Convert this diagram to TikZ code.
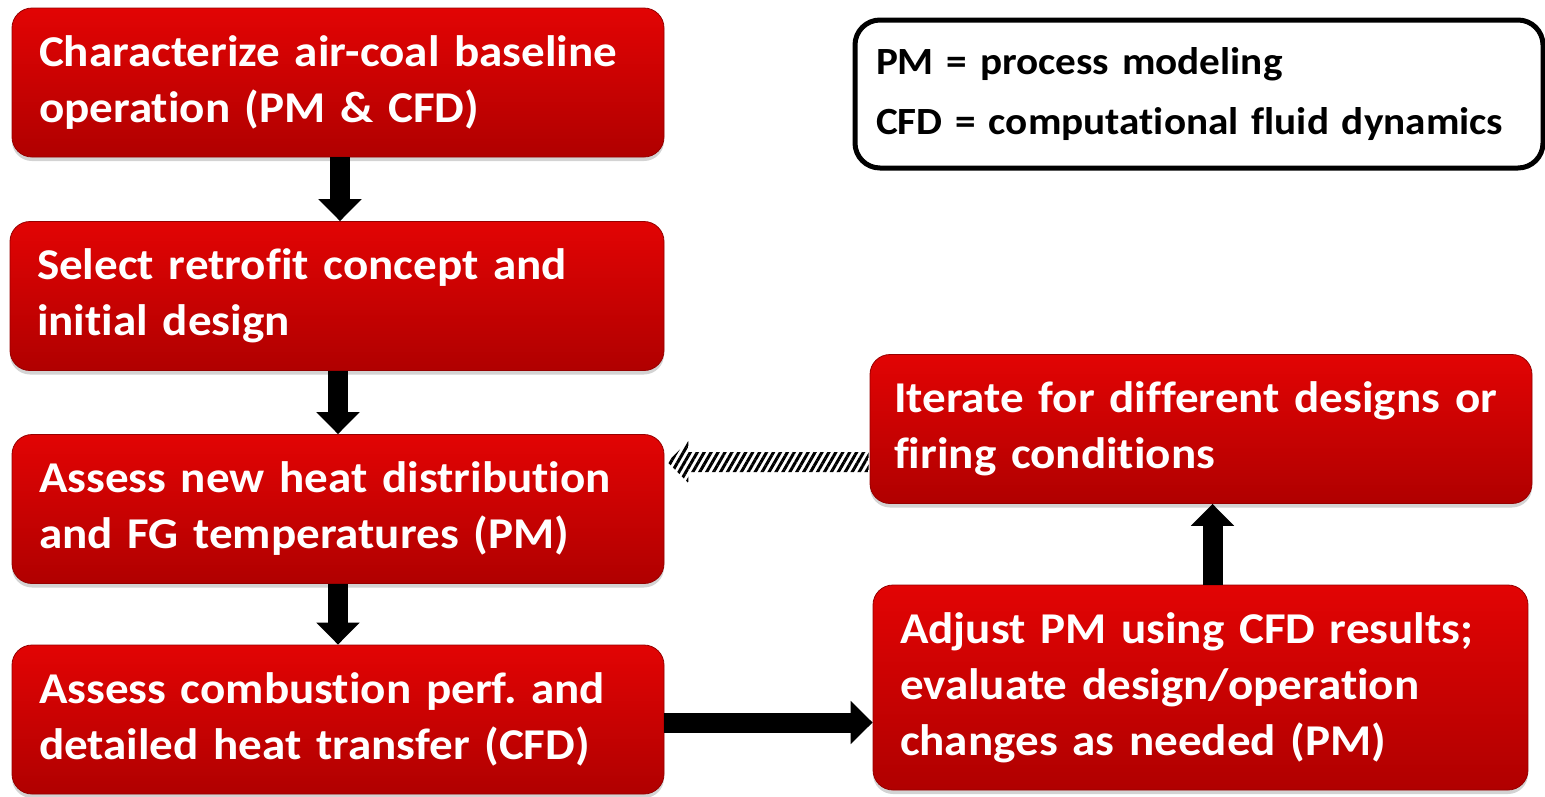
\documentclass[tikz,border=0pt]{standalone}
\usepackage{fontspec}
\setmainfont[FakeStretch=1.07,WordSpace=0.8,Ligatures=NoCommon]{Carlito}
\usepackage{xcolor}
\usetikzlibrary{arrows.meta,shadows,patterns.meta,calc}
\frenchspacing
\definecolor{boxtop}{RGB}{226,4,4}
\definecolor{boxbot}{RGB}{176,0,0}
\tikzset{
  redbox/.style={rounded corners=20pt, top color=boxtop, bottom color=boxbot,
    draw=boxbot!85!black, line width=0.8pt,
    drop shadow={shadow xshift=0pt, shadow yshift=-4pt, opacity=0.35},
    text=white, font=\fontsize{44}{56}\selectfont\bfseries, align=left,
    inner xsep=27pt, minimum height=149pt},
  blockarrow/.style={line width=20pt, -{Triangle[width=42pt,length=22pt]}},
  keybox/.style={draw, line width=5pt, rounded corners=25pt, minimum height=148pt,
    font=\fontsize{38.5}{60}\selectfont\bfseries, align=left, inner xsep=21pt}
}
\begin{document}
\begin{tikzpicture}[x=1pt,y=-1pt]
\useasboundingbox (0,0) rectangle (1545,796);

\node[redbox, text width=598pt] (v1) at (338,82.5) {Characterize air-coal baseline\\operation (PM \& CFD)};
\node[redbox, text width=600pt] (v2) at (337,296) {Select retrofit concept and\\initial design};
\node[redbox, text width=598pt] (v3) at (338,509) {Assess new heat distribution\\and FG temperatures (PM)};
\node[redbox, text width=598pt] (v4) at (338,719.5) {Assess combustion perf. and\\detailed heat transfer (CFD)};
\node[redbox, text width=614pt, inner xsep=24pt] (v5) at (1201,429) {Iterate for different designs or\\firing conditions};
\node[redbox, text width=601pt, minimum height=205pt] (v6) at (1200.5,687.5) {Adjust PM using CFD results;\\evaluate design/operation\\changes as needed (PM)};
\node[keybox, text width=646pt] (v7) at (1199,94) {PM = process modeling\\CFD = computational fluid dynamics};

\draw [blockarrow] ([xshift=2pt]v1.south) -- ([xshift=2pt]v1.south|-v2.north);
\draw [blockarrow] ([xshift=1pt]v2.south) -- ([xshift=1pt]v2.south|-v3.north);
\draw [blockarrow] (v3.south) -- (v3.south|-v4.north);
\draw [blockarrow] ($(v4.east)+(0,3)$) -- ($(v4.east-|v6.west)+(0,3)$);
\draw [blockarrow] ([xshift=12pt]v6.north) -- ([xshift=12pt]v6.north|-v5.south);

\coordinate (c1) at ($(v5.west)+(-1,33)$);
\coordinate (c2) at ($(v3.east|-c1)+(3,0)$);
\fill [pattern={Lines[angle=60,distance=6pt,line width=3pt]}]
  ($(c1)+(0,-10)$) -- ($(c2)+(21,-10)$) -- ($(c2)+(21,-21)$) -- (c2)
  -- ($(c2)+(21,21)$) -- ($(c2)+(21,10)$) -- ($(c1)+(0,10)$) -- cycle;
\end{tikzpicture}
\end{document}
